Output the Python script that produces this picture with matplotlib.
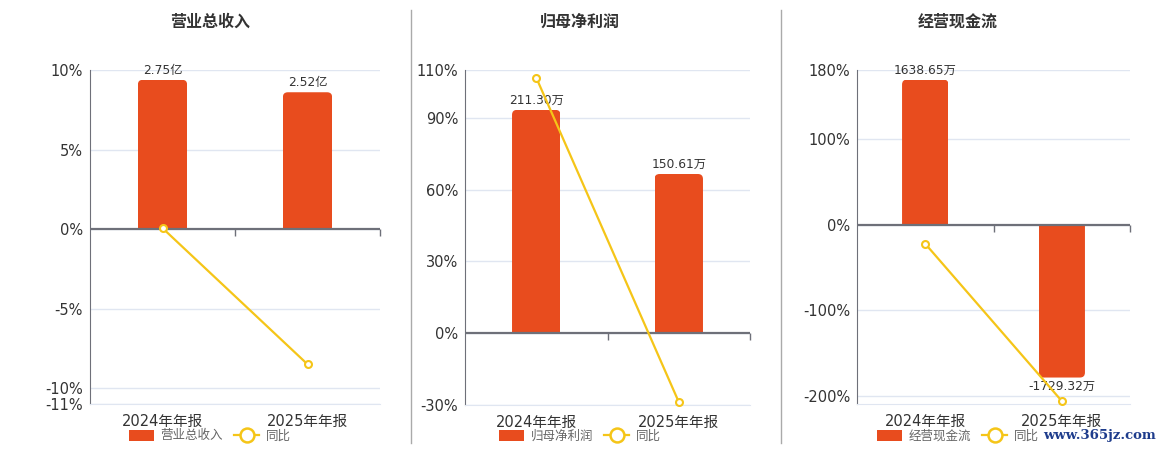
import matplotlib
matplotlib.use('Agg')
import matplotlib.pyplot as plt
from matplotlib.patches import FancyBboxPatch, Patch
from matplotlib.lines import Line2D

plt.rcParams['font.family'] = ['DejaVu Sans', 'Noto Sans CJK SC']

# Data
categories = ['2024年年报', '2025年年报']
revenue = [2.75, 2.52]              # 亿
revenue_yoy = [0.06, -8.5]          # %
net_profit = [211.30, 150.61]       # 万
net_profit_yoy = [106.8, -28.72]    # %
cash_flow = [1638.65, -1729.32]     # 万
cash_flow_yoy = [-22.4, -205.5]     # %

titles = ['营业总收入', '归母净利润', '经营现金流']
units = ['亿', '万', '万']
pct_ticks = [[-11, -10, -5, 0, 5, 10], [-30, 0, 30, 60, 90, 110], [-200, -100, 0, 100, 180]]
pct_limits = [(-11, 10), (-30, 110), (-209, 180)]
bar_tops = [2.93, 249, 1747]

# Colours
BAR = '#E84C1E'
LINE = '#F5C518'
AXIS = '#6E7079'
GRID = '#E0E6F1'
TEXT = '#333333'

W, H = 1160, 450
# pixel boxes of each plot area: left, right, top, bottom
boxes = [(90, 380, 70, 404), (465, 750, 70, 405), (857, 1130, 70, 404)]
centers = [210, 580, 958]


def px_box(l, r, t, b):
    return [l / W, 1 - b / H, (r - l) / W, (b - t) / H]


def round_bars(ax, bars, radius_px, w_px, h_px):
    """Swap plain bar rectangles for ones with rounded far ends"""
    x0, x1 = ax.get_xlim()
    y0, y1 = ax.get_ylim()
    xpp = (x1 - x0) / w_px
    ypp = (y1 - y0) / h_px
    for rect in bars:
        x, y, w, h = rect.get_x(), rect.get_y(), rect.get_width(), rect.get_height()
        lo, hi = min(y, y + h), max(y, y + h)
        ext = radius_px * 2 * ypp
        if h >= 0:
            lo -= ext
        else:
            hi += ext
        patch = FancyBboxPatch((x, lo), w, hi - lo,
                               boxstyle=f'round,pad=0,rounding_size={radius_px * xpp}',
                               mutation_aspect=ypp / xpp,
                               fc=rect.get_facecolor(), ec='none', zorder=rect.get_zorder())
        ax.add_patch(patch)
        patch.set_clip_path(rect)
        rect.set_visible(False)


fig = plt.figure(figsize=(W / 100, H / 100), dpi=100)

series = [(revenue, revenue_yoy), (net_profit, net_profit_yoy), (cash_flow, cash_flow_yoy)]

for i, (values, yoy) in enumerate(series):
    l, r, t, b = boxes[i]
    ax_bar = fig.add_axes(px_box(l, r, t, b))
    ax_line = ax_bar.twinx()
    ax_line.set_zorder(ax_bar.get_zorder() + 1)
    ax_line.patch.set_visible(False)

    lo_pct, hi_pct = pct_limits[i]
    top = bar_tops[i]
    scale = top / hi_pct
    ax_bar.set_xlim(-0.5, 1.5)
    ax_bar.set_ylim(lo_pct * scale, top)
    ax_line.set_ylim(lo_pct, hi_pct)

    # grid lives on the bar axis so it stays behind the bars
    ax_bar.set_yticks([tk * scale for tk in pct_ticks[i]])
    ax_bar.set_yticklabels([])
    ax_bar.tick_params(axis='y', length=0)
    ax_bar.grid(axis='y', color=GRID, lw=1)
    ax_bar.set_axisbelow(True)

    for s in ['top', 'right']:
        ax_bar.spines[s].set_visible(False)
    ax_bar.spines['left'].set_color(AXIS)
    ax_bar.spines['bottom'].set_color(GRID)
    for s in ax_line.spines.values():
        s.set_visible(False)

    ax_bar.set_xticks(range(len(categories)), categories)
    ax_bar.tick_params(axis='x', length=0, pad=7, labelsize=10.5, labelcolor=TEXT)

    # percent labels on the left
    ax_line.yaxis.tick_left()
    ax_line.set_yticks(pct_ticks[i], [f'{tk}%' for tk in pct_ticks[i]])
    ax_line.tick_params(axis='y', length=0, pad=5, labelsize=10.5, labelcolor=TEXT)

    bars = ax_bar.bar(range(len(categories)), values, width=0.34, color=BAR, zorder=2)
    ax_bar.bar_label(bars, labels=[f'{v:.2f}{units[i]}' for v in values],
                     padding=2, fontsize=8.8, color=TEXT)
    round_bars(ax_bar, bars, 5, r - l, b - t)

    ax_bar.axhline(0, color=AXIS, lw=1.6, zorder=3)
    ax_bar.plot([0.5, 1.5], [0, 0], marker=3, ms=5, mew=1, color=AXIS,
                ls='none', clip_on=False, zorder=3)

    ax_line.plot(range(len(categories)), yoy, color=LINE, lw=1.6, marker='o', ms=5,
                 mfc='white', mec=LINE, mew=1.5, clip_on=False, zorder=4)

    fig.text(centers[i] / W, 1 - 22 / H, titles[i], ha='center', va='center',
             fontsize=11.5, weight='bold', color=TEXT)

    handles = [Patch(fc=BAR, ec='none', label=titles[i]),
               Line2D([], [], color=LINE, lw=1.6, marker='o', ms=10, mfc='white',
                      mec=LINE, mew=1.8, label='同比')]
    fig.legend(handles=handles, loc='center', bbox_to_anchor=(centers[i] / W, 1 - 436 / H),
               ncol=2, frameon=False, fontsize=9, labelcolor='#666666',
               handlelength=2.0, handleheight=1.0, columnspacing=0.9, handletextpad=0.5)

# panel separators
for sx in [411, 781]:
    fig.add_artist(Line2D([sx / W, sx / W], [1 - 10 / H, 1 - 443 / H], color='#AAAAAA', lw=1))

fig.text(1156 / W, 1 - 436 / H, 'www.365jz.com', ha='right', va='center',
         family='DejaVu Serif', weight='bold', fontsize=9.5, color='#1E3C8C')

fig.savefig('out.png', dpi=100)
